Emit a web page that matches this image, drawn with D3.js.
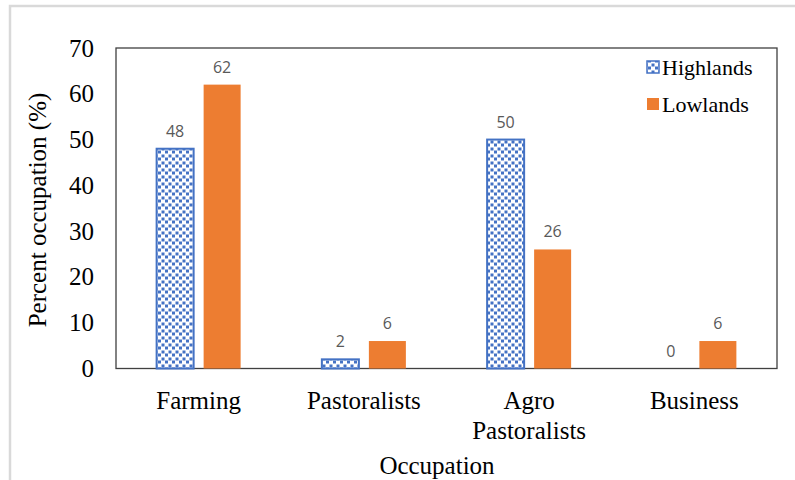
<!DOCTYPE html>
<html><head><meta charset="utf-8">
<script src="https://cdn.jsdelivr.net/npm/d3@7"></script>
<style>body{margin:0;background:#fff}svg{display:block}</style>
</head><body>
<script>
const categories = [["Farming"], ["Pastoralists"], ["Agro", "Pastoralists"], ["Business"]];
const highlands = [48, 2, 50, 0];
const lowlands = [62, 6, 26, 6];
const seriesNames = ["Highlands", "Lowlands"];
const yTicks = [0, 10, 20, 30, 40, 50, 60, 70];

const W = 795, H = 480;
const m = {left: 116, right: 777, top: 48, bottom: 368.5};
const svg = d3.select("body").append("svg").attr("width", W).attr("height", H);

const defs = svg.append("defs");
const pat = defs.append("pattern").attr("id", "dots").attr("patternUnits", "userSpaceOnUse")
  .attr("width", 7).attr("height", 7);
pat.append("rect").attr("width", 7).attr("height", 7).attr("fill", "#fff");
[[0.5,0.5],[4,3.5]].forEach(([x,y]) => pat.append("rect").attr("x", x).attr("y", y).attr("width", 3).attr("height", 3).attr("fill", "#4472C4"));

svg.append("rect").attr("x", 10).attr("y", 6).attr("width", 800).attr("height", 500)
  .attr("fill", "none").attr("stroke", "#d9d9d9").attr("stroke-width", 2.5);

const idx = d3.range(categories.length);
const x = d3.scaleBand().domain(idx).range([m.left, m.right]);
const y = d3.scaleLinear().domain([0, 70]).range([m.bottom, m.top]);

// frame
svg.append("rect").attr("x", m.left).attr("y", m.top).attr("width", m.right - m.left).attr("height", m.bottom - m.top)
  .attr("fill", "none").attr("stroke", "#404040").attr("stroke-width", 1.3);

const bw = 37, gap = 5;
const g = svg.append("g");
g.selectAll("rect.h").data(highlands).join("rect").attr("class", "h")
  .attr("x", (d, i) => x(i) + x.bandwidth() / 2 - gap - bw)
  .attr("y", d => y(d)).attr("width", bw).attr("height", d => y(0) - y(d))
  .attr("fill", d => d > 0 ? "url(#dots)" : "none").attr("stroke", d => d > 0 ? "#4472C4" : "none").attr("stroke-width", 2);
g.selectAll("rect.l").data(lowlands).join("rect").attr("class", "l")
  .attr("x", (d, i) => x(i) + x.bandwidth() / 2 + gap)
  .attr("y", d => y(d)).attr("width", bw).attr("height", d => y(0) - y(d))
  .attr("fill", "#ED7D31");

const lblFont = "'Open Sans', 'Liberation Sans', sans-serif";
g.selectAll("text.hl").data(highlands).join("text")
  .attr("x", (d, i) => x(i) + x.bandwidth() / 2 - gap - bw / 2)
  .attr("y", d => y(d) - 12).attr("text-anchor", "middle")
  .attr("font-family", lblFont).attr("font-size", 16).attr("fill", "#595959").text(d => d);
g.selectAll("text.ll").data(lowlands).join("text")
  .attr("x", (d, i) => x(i) + x.bandwidth() / 2 + gap + bw / 2)
  .attr("y", d => y(d) - 12).attr("text-anchor", "middle")
  .attr("font-family", lblFont).attr("font-size", 16).attr("fill", "#595959").text(d => d);

const serif = "'Liberation Serif', 'Times New Roman', serif";
// y axis
const ya = svg.append("g").attr("transform", `translate(${m.left},0)`)
  .call(d3.axisLeft(y).tickValues(yTicks).tickSize(0).tickPadding(22));
ya.select(".domain").remove();
ya.selectAll("text").attr("font-family", serif).attr("font-size", 25).attr("fill", "#000");

// x axis labels
const xa = svg.append("g").attr("transform", `translate(0,${m.bottom})`)
  .call(d3.axisBottom(x).tickSize(0).tickFormat(""));
xa.select(".domain").remove();
xa.selectAll(".tick").each(function(d) {
  const t = d3.select(this).append("text").attr("font-family", serif).attr("font-size", 25)
    .attr("fill", "#000").attr("text-anchor", "middle");
  categories[d].forEach((line, k) => t.append("tspan").attr("x", 0).attr("y", 40 + k * 30).text(line));
});

svg.append("text").attr("transform", "translate(46,210) rotate(-90)").attr("text-anchor", "middle")
  .attr("font-family", serif).attr("font-size", 25).text("Percent occupation (%)");
svg.append("text").attr("x", 437).attr("y", 474).attr("text-anchor", "middle")
  .attr("font-family", serif).attr("font-size", 25).text("Occupation");

// legend
const leg = svg.append("g");
const legFills = ["url(#dots)", "#ED7D31"];
seriesNames.forEach((n, i) => {
  const yy = 68 + i * 37;
  leg.append("rect").attr("x", 647).attr("y", yy - 7).attr("width", 12).attr("height", 12)
    .attr("fill", legFills[i]).attr("stroke", i === 0 ? "#4472C4" : "none").attr("stroke-width", 1.5);
  leg.append("text").attr("x", 662).attr("y", yy + 7).attr("font-family", serif).attr("font-size", 22).text(n);
});
</script>
</body></html>
